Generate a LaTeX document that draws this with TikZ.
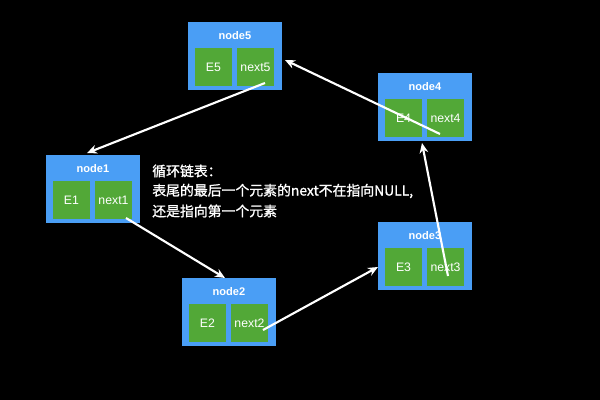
\documentclass[tikz,border=0pt]{standalone}
\usepackage{fontspec}
\setmainfont{Liberation Sans}
\newfontfamily\cjk[FakeBold=1.2]{Noto Sans CJK SC}
\usetikzlibrary{arrows.meta,calc}
\definecolor{boxblue}{RGB}{74,158,245}
\definecolor{boxgreen}{RGB}{82,168,55}
\tikzset{
  outerbox/.style={fill=boxblue, draw=none, minimum width=94*0.75pt, minimum height=68*0.75pt, inner sep=0pt, anchor=north west},
  innerbox/.style={fill=boxgreen, draw=none, minimum width=37*0.75pt, minimum height=38*0.75pt, inner sep=0pt, text=white, font=\fontsize{9.2}{10}\selectfont},
  titletext/.style={text=white, font=\fontsize{8.3}{10}\selectfont\bfseries, inner sep=0pt},
  link/.style={draw=white, line width=1.6pt, -{Stealth[length=7.5pt,width=6.5pt]}},
  note/.style={text=white, anchor=west, inner sep=0pt, font=\cjk\fontsize{10.4}{12}\selectfont}
}
\newcommand\mknode[4]{%
  \node[outerbox] (n#1) at (#2,#3) {};
  \node[titletext] (n#1t) at (#2+47,#3+14) {node#1};
  \node[innerbox] (n#1e) at (#2+25.5,#3+45) {E#1};
  \node[innerbox] (n#1n) at (#2+67.5,#3+45) {next#1};
}
\begin{document}
\begin{tikzpicture}[x=0.75pt,y=-0.75pt]
\fill[black] (0,0) rectangle (600,400);
\useasboundingbox (0,0) rectangle (600,400);
\mknode{5}{188}{22}{}
\mknode{1}{46}{155}{}
\mknode{2}{182}{278}{}
\mknode{4}{378}{73}{}
\mknode{3}{378}{222}{}
\node[note] (t1) at (152,171) {循环链表：};
\node[note] (t2) at (152,191) {表尾的最后一个元素的next不在指向NULL,};
\node[note] (t3) at (152,211) {还是指向第一个元素};
\coordinate (s5) at (265,83);
\coordinate (e1) at (87,153);
\coordinate (s1) at (126,218);
\coordinate (e2) at (225,278);
\coordinate (s2) at (263,330);
\coordinate (e3) at (378,267);
\coordinate (s3) at (448,276);
\coordinate (e4) at (422,143);
\coordinate (s4) at (440,134);
\coordinate (e5) at (285,60);
\draw[link] (s5) -- (e1);
\draw[link] (s1) -- (e2);
\draw[link] (s2) -- (e3);
\draw[link] (s3) -- (e4);
\draw[link] (s4) -- (e5);
\end{tikzpicture}
\end{document}
